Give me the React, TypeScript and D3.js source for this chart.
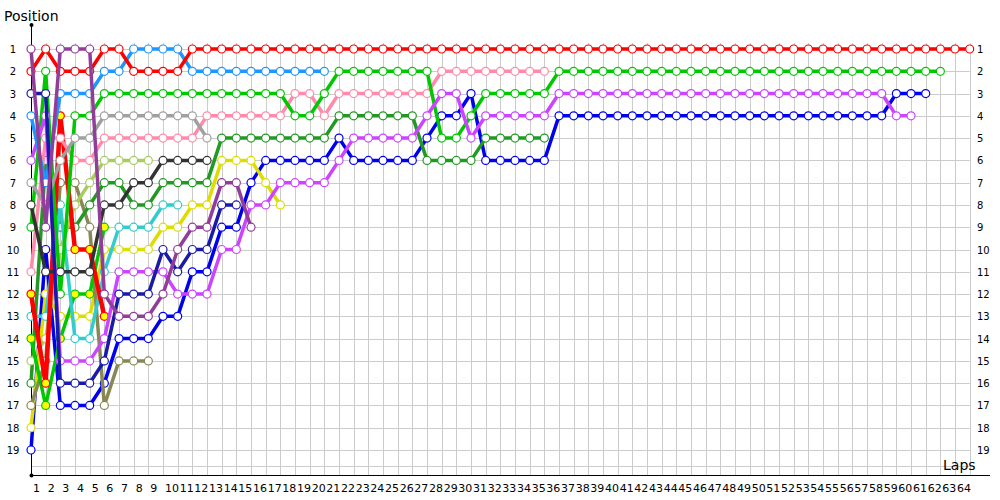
import React from "react";
import * as d3 from "d3";

// ---- data: position per lap, index = lap number (0 = start) ----
const redPos = [2,1,2,2,2,1,1,2,2,2,2,
  1,1,1,1,1,1,1,1,1,1, 1,1,1,1,1,1,1,1,1,1, 1,1,1,1,1,1,1,1,1,1,
  1,1,1,1,1,1,1,1,1,1, 1,1,1,1,1,1,1,1,1,1, 1,1,1,1];
const lightBluePos = [4,7,3,3,3,2,2,1,1,1,1,2,2,2,2,2,2,2,2,2,2];
const greenPos = [9,2,12,4,4,3,
  3,3,3,3,3,3,3,3,3,3,3,3,
  4,4,3,
  2,2,2,2,2,2,2,
  5,5,4,
  3,3,3,3,3,
  2,2,2,2,2,2,2,2,2,2, 2,2,2,2,2,2,2,2,2,2, 2,2,2,2,2,2,2];
const pinkPos = [11,5,5,6,6,5, 5,5,5,5,5,5, 4,4,4,4,4,4, 3,3,4, 3,3,3,3,3,3,3, 2,2,2,2,2,2,2,2];
const grayPos = [7,8,6,5,5,4,4,4,4,4,4,4,5];
const yellowGreenPos = [15,14,10,8,7,6,6,6,6];
const blackPos = [8,11,11,11,11,8,8,7,7,6,6,6,6];
const forestPos = [16,6,9,9,8,7,7,8,8,7,7,7,7, 5,5,5,5,5,5,5,5, 4,4,4,4,4,4, 6,6,6,6, 5,5,5,5,5];
const yellowPos = [18,12,13,13,13,10,10,10,10,9,9,8,8,6,6,6,7,8];
const cyanPos = [13,13,8,14,14,11,9,9,9,8,8];
const navyPos = [3,3,16,16,16,15,12,12,12,10,11,10,10,8,8];
const bluePos = [19,10,17,17,17,16,14,14,14,13,13,11,11,9,9,7,
  6,6,6,6,6, 5, 6,6,6,6,6, 5, 4,4, 3, 6,6,6,6,6,
  4,4,4,4,4,4,4,4,4,4, 4,4,4,4,4,4,4,4,4,4, 4,4,4,
  3,3,3];
const purplePos = [1,9,1,1,1,12,13,13,13,12,10,9,9,7,7,9];
const violetPos = [6,4,15,15,15,14,11,11,11,11,12,12,12,10,10,
  8,8, 7,7,7,7, 6, 5,5,5,5,5, 4, 3,3, 5, 4,4,4,4,4,
  3,3,3,3,3,3,3,3,3,3, 3,3,3,3,3,3,3,3,3,3, 3,3,3,
  4,4];
const olivePos = [17,15,7,7,9,17,15,15,15];
const redYellowPos = [12,16,4,10,10,13];
const greenYellowPos = [14,17,14,12,12,9];

const lapLabels = d3.range(1, 65).map(String);
const positionLabels = d3.range(1, 20).map(String);

type Series = { name: string; pos: number[]; color: string; fill: string; width: number };

// drawing order: back to front
const series: Series[] = [
  { name: "blue", pos: bluePos, color: "#0000f0", fill: "#fff", width: 3.5 },
  { name: "yellow", pos: yellowPos, color: "#dddd00", fill: "#fff", width: 3.5 },
  { name: "olive", pos: olivePos, color: "#888855", fill: "#fff", width: 3.5 },
  { name: "forest", pos: forestPos, color: "#229922", fill: "#fff", width: 3.5 },
  { name: "yellowgreen", pos: yellowGreenPos, color: "#a8cc60", fill: "#fff", width: 3.5 },
  { name: "greenYellow", pos: greenYellowPos, color: "#00c800", fill: "#ffff00", width: 3.5 },
  { name: "cyan", pos: cyanPos, color: "#33cccc", fill: "#fff", width: 3.5 },
  { name: "redYellow", pos: redYellowPos, color: "#ff0000", fill: "#ffff00", width: 4.5 },
  { name: "pink", pos: pinkPos, color: "#ff8aaa", fill: "#fff", width: 3.5 },
  { name: "green", pos: greenPos, color: "#00c800", fill: "#fff", width: 3.5 },
  { name: "black", pos: blackPos, color: "#333333", fill: "#fff", width: 3.5 },
  { name: "gray", pos: grayPos, color: "#a0a0a0", fill: "#fff", width: 3.5 },
  { name: "violet", pos: violetPos, color: "#cc44ff", fill: "#fff", width: 3.5 },
  { name: "lightblue", pos: lightBluePos, color: "#1e96ff", fill: "#fff", width: 3.5 },
  { name: "navy", pos: navyPos, color: "#1a1aa8", fill: "#fff", width: 3.5 },
  { name: "red", pos: redPos, color: "#ff0000", fill: "#fff", width: 3.5 },
  { name: "purple", pos: purplePos, color: "#913d9a", fill: "#fff", width: 3.5 },
];

export default function App() {
  const x = d3.scaleLinear().domain([0, 64]).range([31, 969.7]);
  const y = d3.scaleLinear().domain([1, 19]).range([49, 450]);
  const axisY = 475;
  const gridTop = 43;
  const font = "DejaVu Sans, Verdana, sans-serif";
  const line = d3
    .line<number>()
    .x((_, i) => x(i))
    .y((d) => y(d));

  return (
    <svg
      width={1000}
      height={500}
      style={{ position: "absolute", left: 0, top: 0, background: "#fff" }}
      fontFamily={font}
    >
      <rect x={0} y={0} width={1000} height={500} fill="#fff" />
      {/* grid */}
      <g stroke="#cccccc" strokeWidth={1}>
        {d3.range(1, 65).map((l) => (
          <line key={"v" + l} x1={Math.round(x(l)) + 0.5} x2={Math.round(x(l)) + 0.5} y1={gridTop} y2={axisY} />
        ))}
        {positionLabels.map((_, i) => (
          <line key={"h" + i} x1={31} x2={x(64)} y1={Math.round(y(i + 1)) + 0.5} y2={Math.round(y(i + 1)) + 0.5} />
        ))}
        <line x1={31} x2={x(64)} y1={466.5} y2={466.5} />
      </g>
      {/* axes */}
      <g stroke="#000" strokeWidth={1}>
        <line x1={31.5} x2={31.5} y1={25} y2={axisY} />
        <line x1={31} x2={990} y1={axisY + 0.5} y2={axisY + 0.5} />
      </g>
      <circle cx={31.5} cy={25} r={2} fill="#000" />
      <circle cx={31.5} cy={axisY + 0.5} r={2} fill="#000" />
      <text x={4} y={21} fontSize={14} fill="#000">Position</text>
      <text x={943} y={470} fontSize={14} fill="#000">Laps</text>
      {/* position labels */}
      {positionLabels.map((p, i) => (
        <g key={"pl" + p}>
          <text x={13} y={y(i + 1) + 4} fontSize={10} textAnchor="middle" fill="#000">{p}</text>
          <text x={977} y={y(i + 1) + 4} fontSize={10} textAnchor="start" fill="#000">{p}</text>
        </g>
      ))}
      {/* lap labels */}
      {lapLabels.map((l, i) => (
        <text key={"ll" + l} x={x(i) + 2} y={492} fontSize={11} fill="#000">{l}</text>
      ))}
      {/* series */}
      {series.map((s) => (
        <g key={s.name}>
          <path d={line(s.pos) || ""} fill="none" stroke={s.color} strokeWidth={s.width} strokeLinejoin="round" />
          {s.pos.map((p, i) => (
            <circle key={i} cx={x(i)} cy={y(p)} r={4} fill={s.fill} stroke={s.color} strokeWidth={1.2} />
          ))}
        </g>
      ))}
    </svg>
  );
}
